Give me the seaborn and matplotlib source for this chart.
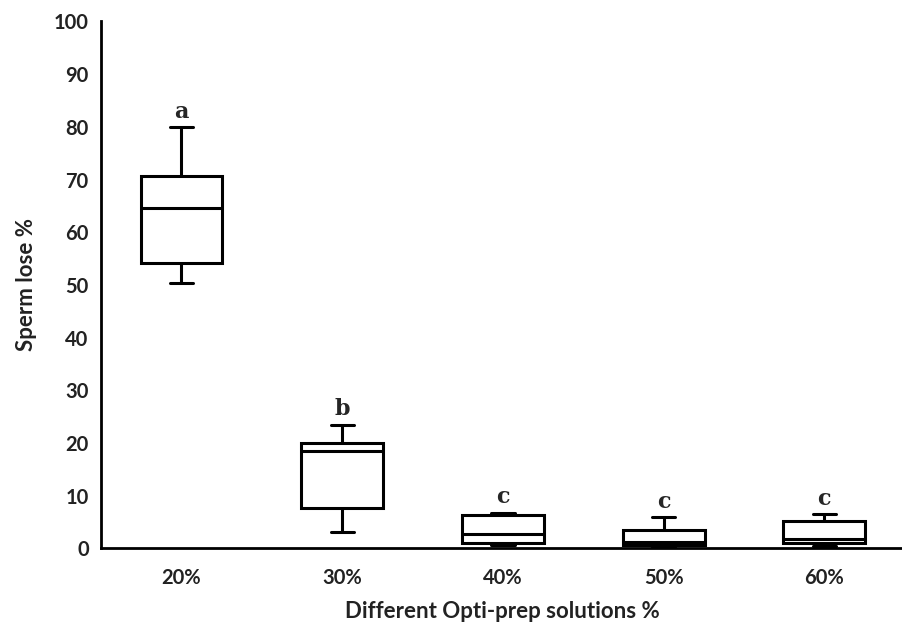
import pandas as pd
import matplotlib
matplotlib.use('Agg')
import matplotlib.pyplot as plt
import seaborn as sns
import numpy as np

# Valores (mín, Q1, mediana, Q3, máx) por grupo
categorias = ['20%', '30%', '40%', '50%', '60%']
grupo_20 = [50.4, 54.1, 64.6, 70.6, 80.0]
grupo_30 = [3.1, 7.7, 18.4, 19.9, 23.5]
grupo_40 = [0.7, 1.1, 2.7, 6.3, 6.8]
grupo_50 = [0.2, 0.7, 1.2, 3.4, 5.9]
grupo_60 = [0.5, 0.95, 1.8, 5.1, 6.5]
letras = ['a', 'b', 'c', 'c', 'c']

valores = [grupo_20, grupo_30, grupo_40, grupo_50, grupo_60]
df = pd.DataFrame({
    'solucao': np.repeat(categorias, [len(v) for v in valores]),
    'perda': np.concatenate(valores),
})

sns.set_style('white')
plt.rcParams['font.family'] = ['Lato', 'DejaVu Sans']

fig = plt.figure(figsize=(9.03, 6.31), dpi=100)
ax = fig.add_axes([0.112, 0.131, 0.888, 0.835])

sns.boxplot(data=df, x='solucao', y='perda', order=categorias, ax=ax,
            color='white', linecolor='black', linewidth=2.2, width=0.51,
            whis=np.inf, capwidths=0.145)

# Letras de significância acima de cada bigode
for i, (v, letra) in enumerate(zip(valores, letras)):
    ax.annotate(letra, xy=(i, max(v)), xytext=(0, 11), textcoords='offset points',
                ha='center', va='center', fontsize=16, fontweight='bold',
                family='DejaVu Serif')

ax.set_ylim(0, 100)
ax.set_xlim(-0.5, 4.49)
ax.set_yticks(range(0, 101, 10))
ax.set_xticks([0.5, 1.5, 2.5, 3.5], minor=False)
ax.set_xticklabels([])
ax.set_xticks(range(5), minor=True)
ax.set_xticklabels(categorias, minor=True)
ax.tick_params(axis='x', which='major', direction='out', length=5, width=2, color='black')
ax.tick_params(axis='x', which='minor', length=0, pad=14, labelsize=14.5)
ax.tick_params(axis='y', direction='out', length=6, width=2, color='black', labelsize=14.5, pad=3)
for lab in ax.get_xticklabels(minor=True) + ax.get_yticklabels():
    lab.set_fontweight('bold')
    lab.set_color('#222222')

sns.despine(ax=ax)
ax.spines['left'].set_linewidth(2)
ax.spines['bottom'].set_linewidth(2)
ax.spines['left'].set_color('black')
ax.spines['bottom'].set_color('black')

ax.set_xlabel('Different Opti-prep solutions %', fontsize=16, fontweight='bold',
              color='#222222')
ax.set_ylabel('Sperm lose %', fontsize=16, fontweight='bold', color='#222222')
ax.xaxis.set_label_coords(0.5, -0.1)
ax.yaxis.set_label_coords(-0.08, 0.5)

fig.savefig('out.png', dpi=100)
